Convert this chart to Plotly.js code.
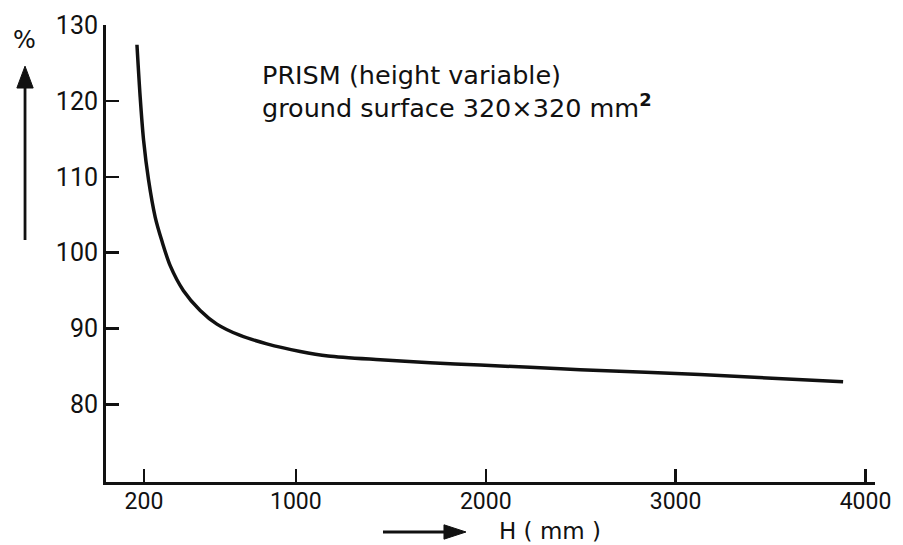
<!DOCTYPE html>
<html>
<head>
<meta charset="utf-8">
<script src="https://cdn.plot.ly/plotly-3.0.1.min.js"></script>
<style>html,body{margin:0;padding:0;background:#fff;}#chart{width:903px;height:545px;}</style>
</head>
<body>
<div id="chart"></div>
<script>
// Data
const heightMM = [163, 180, 198, 224, 259, 295, 338, 408, 496, 584, 707, 847, 1023, 1170, 1444, 1707, 1970, 2233, 2497, 3128, 3882];
const percent  = [127.4, 120.5, 114.8, 109.6, 104.7, 101.5, 98.3, 95.0, 92.4, 90.6, 89.1, 88.0, 87.0, 86.4, 85.9, 85.5, 85.2, 84.9, 84.6, 83.95, 83.0];
const xTickVals = [200, 1000, 2000, 3000, 4000];
const xTickText = ['200', '1000', '2000', '3000', '4000'];
const yTickVals = [80, 90, 100, 110, 120, 130];
const yTickText = ['80', '90', '100', '110', '120', '130'];
const noteLine1 = 'PRISM (height variable)';
const noteLine2 = 'ground surface 320\u00d7320 mm<b><sup>2</sup></b>';
const xLabel = 'H ( mm )';
const yLabel = '%';

const ink = '#111111';
const textFont = 'DejaVu Sans, sans-serif';
const tickFont = 'Roboto, sans-serif';

const trace = {
  x: heightMM, y: percent, type: 'scatter', mode: 'lines',
  line: {color: ink, width: 3.5, shape: 'spline', smoothing: 0.8},
  hoverinfo: 'skip', showlegend: false
};

const layout = {
  width: 903, height: 545,
  margin: {l: 106, r: 28, t: 25, b: 63},
  paper_bgcolor: '#ffffff', plot_bgcolor: '#ffffff',
  showlegend: false,
  xaxis: {
    range: [0, 4050], showgrid: false, zeroline: false,
    showline: true, linecolor: ink, linewidth: 3,
    ticks: 'inside', ticklen: 13, tickwidth: 2.5, tickcolor: ink,
    tickmode: 'array', tickvals: xTickVals, ticktext: xTickText,
    tickfont: {family: tickFont, size: 23, color: ink},
    ticklabelstandoff: -4
  },
  yaxis: {
    range: [69.8, 130], showgrid: false, zeroline: false,
    showline: true, linecolor: ink, linewidth: 3,
    ticks: 'inside', ticklen: 13, tickwidth: 2.5, tickcolor: ink,
    tickmode: 'array', tickvals: yTickVals, ticktext: yTickText,
    ticksuffix: '\u00a0\u00a0',
    tickfont: {family: tickFont, size: 25, color: ink}
  },
  shapes: [
    // up arrow next to the y axis
    {type: 'line', xref: 'paper', yref: 'paper', x0: -0.1053, x1: -0.1053, y0: 0.5295, y1: 0.87,
     line: {color: ink, width: 2.8}},
    {type: 'path', xref: 'paper', yref: 'paper',
     path: 'M -0.1053,0.910 L -0.0947,0.8621 L -0.1159,0.8621 Z',
     fillcolor: ink, line: {color: ink, width: 1}},
    // right arrow before the x label
    {type: 'line', xref: 'paper', yref: 'paper', x0: 0.3602, x1: 0.445, y0: -0.1094, y1: -0.1094,
     line: {color: ink, width: 2.8}},
    {type: 'path', xref: 'paper', yref: 'paper',
     path: 'M 0.4681,-0.1094 L 0.4395,-0.0937 L 0.4395,-0.1251 Z',
     fillcolor: ink, line: {color: ink, width: 1}}
  ],
  annotations: [
    {xref: 'paper', yref: 'paper', x: 0.2003, y: 0.8534, xanchor: 'left', yanchor: 'middle', align: 'left',
     text: noteLine1 + '<br>' + noteLine2, showarrow: false, font: {family: textFont, size: 25.5, color: ink}},
    {xref: 'paper', yref: 'paper', x: -0.106, y: 0.967, xanchor: 'center', yanchor: 'middle',
     text: yLabel, showarrow: false, font: {family: textFont, size: 24, color: ink}},
    {xref: 'paper', yref: 'paper', x: 0.5085, y: -0.107, xanchor: 'left', yanchor: 'middle',
     text: xLabel, showarrow: false, font: {family: textFont, size: 23, color: ink}}
  ]
};

Plotly.newPlot('chart', [trace], layout, {displayModeBar: false, staticPlot: true});
</script>
</body>
</html>
